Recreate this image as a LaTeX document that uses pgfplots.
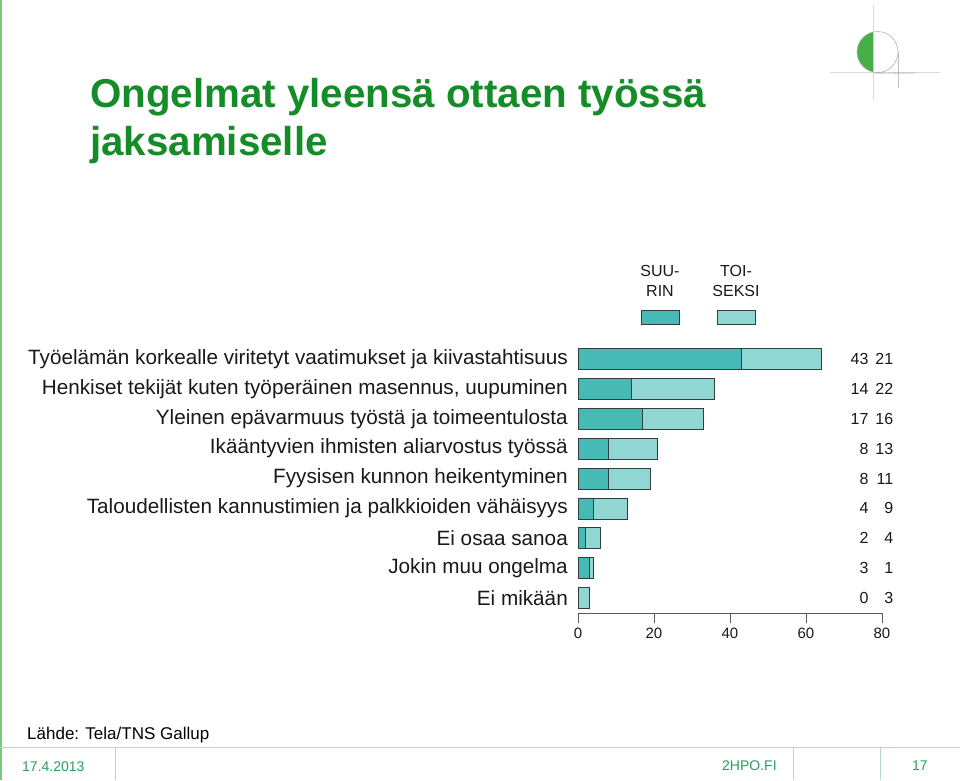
\documentclass[border=0pt]{standalone}
\usepackage{pgfplots}
\pgfplotsset{compat=1.18}
\usepackage{pgfplotstable}
\usepackage{fontspec}
\setmainfont{Liberation Sans}
\definecolor{titlegreen}{RGB}{20,140,40}
\definecolor{footgreen}{RGB}{40,160,90}
\definecolor{lightline}{RGB}{175,220,195}
\definecolor{suurin}{RGB}{72,186,182}
\definecolor{toiseksi}{RGB}{144,214,210}
\definecolor{barborder}{RGB}{50,62,62}
\definecolor{logogreen}{RGB}{70,175,70}
\definecolor{textdark}{RGB}{25,25,25}

\pgfplotstableread{
idx a b
0 43 21
1 14 22
2 17 16
3 8 13
4 8 11
5 4 9
6 2 4
7 3 1
8 0 3
}\data

\begin{document}
\begin{tikzpicture}
\path[use as bounding box, fill=white] (0,0) rectangle (960pt,-780pt);
\begin{scope}[x=1pt,y=-1pt]
% left green edge
\draw[logogreen!70, line width=1.2pt] (1,0) -- (1,780);
% title
\node[anchor=base west, inner sep=0, font=\fontsize{40.3}{48}\selectfont\bfseries, text=titlegreen] at (90,107) {Ongelmat yleensä ottaen työssä};
\node[anchor=base west, inner sep=0, font=\fontsize{40.3}{48}\selectfont\bfseries, text=titlegreen] at (90,155) {jaksamiselle};
% logo
\draw[black!15, line width=0.6pt] (873,5) -- (873,100);
\draw[black!15, line width=0.6pt] (830,72) -- (940,72);
\draw[black!25, line width=0.6pt] (898,52) -- (898,88);
\begin{scope}
\clip (850,20) rectangle (873,90);
\fill[logogreen] (877.5,52) circle (20.5);
\end{scope}
\draw[black!30, line width=0.6pt] (877.5,52) circle (20.5);
\node[anchor=west, inner sep=0, font=\fontsize{2.5}{3}\selectfont, text=black!40] at (875,74) {SOSIAALI- JA TERVEYSPALVELUT};
% legend
\node[align=center, inner sep=0, font=\fontsize{16}{20}\selectfont, text=textdark] at (660,281) {SUU-\\RIN};
\node[align=center, inner sep=0, font=\fontsize{16}{20}\selectfont, text=textdark] at (736,281) {TOI-\\SEKSI};
\filldraw[fill=suurin, draw=barborder, line width=0.8pt] (641,310) rectangle (679,324);
\filldraw[fill=toiseksi, draw=barborder, line width=0.8pt] (717,310) rectangle (755,324);
% footer
\node[anchor=base west, inner sep=0, font=\fontsize{17}{20}\selectfont] at (27,739) {Lähde: Tela/TNS Gallup};
\draw[lightline, line width=1pt] (0,747) -- (960,747);
\draw[lightline, line width=1pt] (115,748) -- (115,780);
\draw[lightline, line width=1pt] (793,748) -- (793,780);
\draw[lightline, line width=1pt] (880,748) -- (880,780);
\node[anchor=base west, inner sep=0, font=\fontsize{14}{16}\selectfont, text=footgreen] at (22,771) {17.4.2013};
\node[anchor=base west, inner sep=0, font=\fontsize{14}{16}\selectfont, text=footgreen] at (722,770) {2HPO.FI};
\node[anchor=base west, inner sep=0, font=\fontsize{14}{16}\selectfont, text=footgreen] at (912,770) {17};
\end{scope}

\begin{axis}[
  at={(578pt,-613pt)}, anchor=south west,
  scale only axis, width=304pt, height=269pt,
  xbar stacked, bar width=21pt,
  xmin=0, xmax=80, ymin=-0.5, ymax=8.5, y dir=reverse,
  axis x line*=bottom, axis y line*=left,
  x axis line style={-, draw=black!65, line width=0.8pt},
  y axis line style={draw=none},
  xtick={0,20,40,60,80},
  tick align=outside, major tick length=10pt,
  xtick style={draw=black!65, line width=0.8pt},
  ytick={0,...,8}, ytick style={draw=none},
  yticklabels={{Työelämän korkealle viritetyt vaatimukset ja kiivastahtisuus},{Henkiset tekijät kuten työperäinen masennus, uupuminen},{Yleinen epävarmuus työstä ja toimeentulosta},{Ikääntyvien ihmisten aliarvostus työssä},{Fyysisen kunnon heikentyminen},{Taloudellisten kannustimien ja palkkioiden vähäisyys},{Ei osaa sanoa},{Jokin muu ongelma},{Ei mikään}},
  yticklabel style={font=\fontsize{20.7}{22}\selectfont, text=textdark, anchor=east, inner sep=0pt},
  xticklabel style={font=\fontsize{15}{17}\selectfont, text=textdark, inner sep=0pt, yshift=-5pt},
  /pgf/number format/assume math mode=true,
  clip=false,
]
\addplot[fill=suurin, draw=barborder, line width=0.8pt] table[x=a, y=idx] {\data};
\addplot[fill=toiseksi, draw=barborder, line width=0.8pt] table[x=b, y=idx] {\data};
\end{axis}

\begin{axis}[
  at={(578pt,-613pt)}, anchor=south west,
  scale only axis, width=304pt, height=269pt,
  xmin=0, xmax=80, ymin=-0.5, ymax=8.5, y dir=reverse,
  hide axis, clip=false,
]
\addplot[draw=none, mark=none, nodes near coords, point meta=explicit symbolic,
  every node near coord/.style={anchor=east, inner sep=0pt, text=textdark, font=\fontsize{16}{18}\selectfont}]
  table[x expr=76.5, y=idx, meta=a] {\data};
\addplot[draw=none, mark=none, nodes near coords, point meta=explicit symbolic,
  every node near coord/.style={anchor=east, inner sep=0pt, text=textdark, font=\fontsize{16}{18}\selectfont}]
  table[x expr=83.0, y=idx, meta=b] {\data};
\end{axis}
\end{tikzpicture}
\end{document}
